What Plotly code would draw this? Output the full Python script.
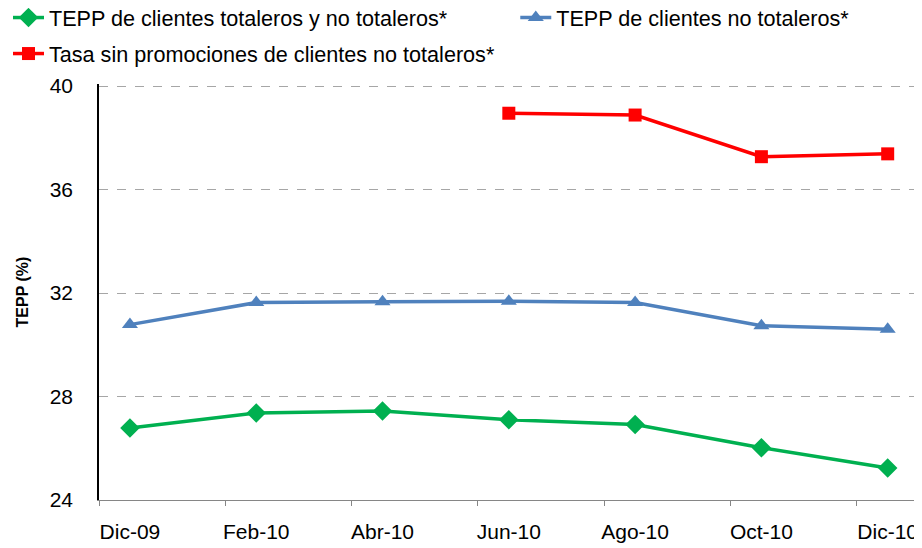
import plotly.graph_objects as go

categories = ["Dic-09", "Feb-10", "Abr-10", "Jun-10", "Ago-10", "Oct-10", "Dic-10"]
tepp_total = [26.78, 27.36, 27.44, 27.10, 26.92, 26.02, 25.24]
tepp_no_total = [30.78, 31.63, 31.66, 31.68, 31.63, 30.74, 30.60]
tasa_sin_promo = [None, None, None, 38.95, 38.88, 37.27, 37.38]

names = [
    "TEPP de clientes totaleros y no totaleros*",
    "TEPP de clientes no totaleros*",
    "Tasa sin promociones de clientes no totaleros*",
]

x = list(range(len(categories)))
FONT = "Arial, Liberation Sans, sans-serif"

# page body has an 8px default margin; size the figure to fill the rest
W, H = 914, 540

fig = go.Figure()
fig.add_trace(go.Scatter(
    x=x, y=tepp_total, name=names[0], mode="lines+markers",
    line=dict(color="#00B050", width=3.5),
    marker=dict(symbol="diamond", size=15, color="#00B050"),
    legend="legend",
))
fig.add_trace(go.Scatter(
    x=x, y=tepp_no_total, name=names[1], mode="lines+markers",
    line=dict(color="#4F81BD", width=3.5),
    marker=dict(symbol="triangle-up", size=14, color="#4F81BD"),
    legend="legend2",
))
fig.add_trace(go.Scatter(
    x=x, y=tasa_sin_promo, name=names[2], mode="lines+markers",
    line=dict(color="#FF0000", width=3.5),
    marker=dict(symbol="square", size=13, color="#FF0000"),
    legend="legend3", connectgaps=False,
))

leg_common = dict(
    orientation="h", xref="container", yref="container",
    xanchor="left", yanchor="middle",
    font=dict(size=21.6, color="black", family=FONT),
    itemwidth=31, bgcolor="rgba(0,0,0,0)",
)

fig.update_layout(
    width=W, height=H,
    margin=dict(l=91, r=4, t=76, b=48, autoexpand=False),
    plot_bgcolor="white", paper_bgcolor="white",
    font=dict(family=FONT, size=21, color="black"),
    showlegend=True,
    legend=dict(x=-0.0115, y=1 - 10 / H, **leg_common),
    legend2=dict(x=0.555, y=1 - 10 / H, **leg_common),
    legend3=dict(x=-0.0115, y=1 - 46 / H, **leg_common),
)

fig.update_xaxes(
    range=[-0.245, 6.24],
    tickmode="array", tickvals=x, ticktext=categories,
    ticks="", showgrid=False, zeroline=False,
    showline=True, linecolor="#868686", linewidth=1,
    tickfont=dict(size=21, family=FONT, color="black"),
    ticklabelstandoff=13, ticklabeloverflow="allow",
    minor=dict(tickmode="linear", tick0=-0.245, dtick=1, ticks="outside",
               ticklen=5, tickcolor="#868686", tickwidth=1, showgrid=False),
)

fig.update_yaxes(
    range=[24, 40.08], tickmode="linear", tick0=24, dtick=4,
    showgrid=True, gridcolor="#A6A6A6", griddash="dash", gridwidth=1,
    zeroline=False, showline=True, linecolor="black", linewidth=1.5,
    ticks="", tickfont=dict(size=21, family=FONT, color="black"),
    ticklabelstandoff=20,
    title=dict(text="<b>TEPP (%)</b>", font=dict(size=16, family=FONT, color="black"),
               standoff=17),
)

fig.write_html("out.html")
